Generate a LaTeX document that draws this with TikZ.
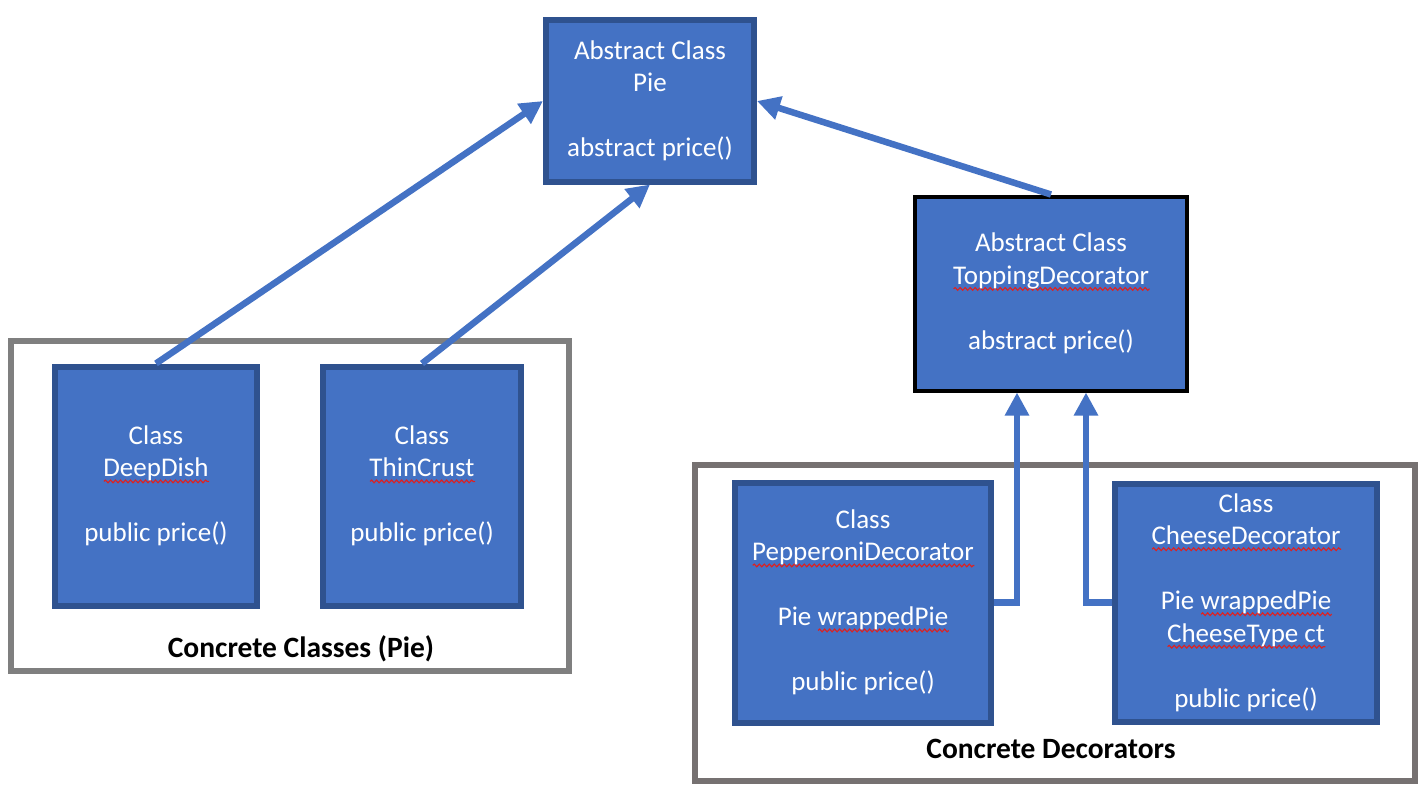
\documentclass[tikz,border=0pt]{standalone}
\usepackage{fontspec}
\setmainfont{Carlito}
\usetikzlibrary{
	arrows.meta,
	decorations.pathmorphing,
	positioning
}

\definecolor{boxfill}{HTML}{4472C4}
\definecolor{boxline}{HTML}{2F528F}
\definecolor{groupline}{HTML}{7F7F7F}
\definecolor{grouplinewarm}{HTML}{767171}
\definecolor{spellred}{HTML}{E0201E}

% red wavy underline under a word
\newlength\spellwidth
\newcommand\spell[1]{%
	\settowidth\spellwidth{#1}%
	\rlap{\tikz[baseline = 0pt] \draw[spellred, line width = 1.1pt, decorate,
		decoration = {snake, amplitude = 1.4pt, segment length = 5pt}]
		(0pt, -4.5pt) -- (\spellwidth, -4.5pt);}%
	#1%
}

\begin{document}
\begin{tikzpicture} [
		x = 1pt,
		y = -1pt,
		node distance = 60pt,
		class/.style = {
			rectangle,
			draw = boxline,
			fill = boxfill,
			line width = 6pt,
			text = white,
			align = center,
			inner sep = 0pt,
			font = \fontsize{27}{32.5}\selectfont,
		},
		abstract/.style = {
			class,
			draw = black,
			line width = 4pt,
		},
		group/.style = {
			rectangle,
			draw = groupline,
			line width = 6pt,
			inner sep = 0pt,
		},
		group-caption/.style = {
			anchor = base,
			font = \fontsize{29.5}{35}\selectfont\bfseries
		},
		line/.style = {
			draw,
			boxfill,
			line width = 6.5pt,
			-{Triangle[width = 23pt, length = 23pt]},
		}
	]
	\useasboundingbox (0, 0) rectangle (1424, 792);

	% groups
	\node[group, minimum width = 558pt, minimum height = 330pt] (classes) at (290, 506) {};
	\node[group, draw = grouplinewarm, minimum width = 720pt, minimum height = 315.5pt] (decorators) at (1055, 622.75) {};
	\node[group-caption] (classes-caption) at (301, 657) {Concrete Classes (Pie)};
	\node[group-caption] (decorators-caption) at (1051, 758) {Concrete Decorators};

	\node[class, minimum width = 208pt, minimum height = 161pt] (pie) at (650, 101) {
		Abstract Class\\Pie\\[32.5pt]abstract price()
	};
	\node[abstract, minimum width = 272pt, minimum height = 194pt] (topping) at (1051, 293.5) {
		Abstract Class\\\spell{ToppingDecorator}\\[32.5pt]abstract price()
	};

	\node[class, minimum width = 202pt, minimum height = 239pt] (deepdish) at (156, 486) {
		Class\\\spell{DeepDish}\\[32.5pt]public price()
	};
	\node[class, minimum width = 198pt, minimum height = 239pt, right = of deepdish] (thincrust) {
		Class\\\spell{ThinCrust}\\[32.5pt]public price()
	};

	\node[class, minimum width = 256pt, minimum height = 240pt] (pepperoni) at (863, 602.5) {
		Class\\\spell{PepperoniDecorator}\\[32.5pt]Pie \spell{wrappedPie}\\[32.5pt]public price()
	};
	\node[class, minimum width = 262pt, minimum height = 238pt, right = 118pt of pepperoni] (cheese) {
		Class\\\spell{CheeseDecorator}\\[32.5pt]Pie \spell{wrappedPie}\\\spell{CheeseType ct}\\[32.5pt]public price()
	};

	\begin{scope} [
			every path/.style = line
		]
		\path (deepdish.north) -- (pie.west);
		\path (thincrust.north) -- (pie.south);
		\path (topping.north) -- (pie.east);
		\path (pepperoni.east) -| ([xshift = -34pt]topping.south);
		\path (cheese.west) -| ([xshift = 35pt]topping.south);
	\end{scope}
\end{tikzpicture}
\end{document}
